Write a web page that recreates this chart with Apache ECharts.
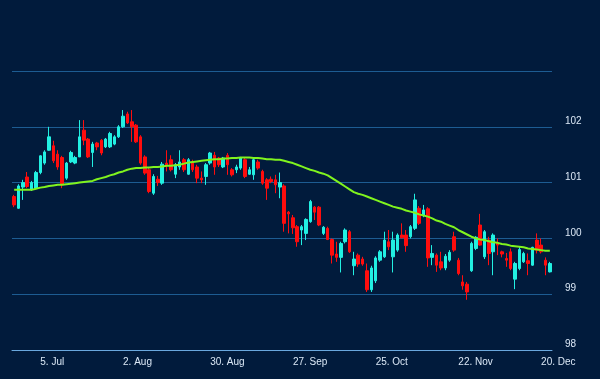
<!DOCTYPE html>
<html>
<head>
<meta charset="utf-8">
<script src="https://cdn.jsdelivr.net/npm/echarts@6/dist/echarts.min.js"></script>
<style>
html,body{margin:0;padding:0;background:#011b3c;}
#chart{width:600px;height:379px;}
</style>
</head>
<body>
<div id="chart"></div>
<script>
// Trading days (bond market, US holidays excluded)
var dates = [
'2021-06-25','2021-06-28','2021-06-29','2021-06-30','2021-07-01','2021-07-02','2021-07-06','2021-07-07','2021-07-08','2021-07-09',
'2021-07-12','2021-07-13','2021-07-14','2021-07-15','2021-07-16','2021-07-19','2021-07-20','2021-07-21','2021-07-22','2021-07-23',
'2021-07-26','2021-07-27','2021-07-28','2021-07-29','2021-07-30','2021-08-02','2021-08-03','2021-08-04','2021-08-05','2021-08-06',
'2021-08-09','2021-08-10','2021-08-11','2021-08-12','2021-08-13','2021-08-16','2021-08-17','2021-08-18','2021-08-19','2021-08-20',
'2021-08-23','2021-08-24','2021-08-25','2021-08-26','2021-08-27','2021-08-30','2021-08-31','2021-09-01','2021-09-02','2021-09-03',
'2021-09-07','2021-09-08','2021-09-09','2021-09-10','2021-09-13','2021-09-14','2021-09-15','2021-09-16','2021-09-17','2021-09-20',
'2021-09-21','2021-09-22','2021-09-23','2021-09-24','2021-09-27','2021-09-28','2021-09-29','2021-09-30','2021-10-01','2021-10-04',
'2021-10-05','2021-10-06','2021-10-07','2021-10-08','2021-10-12','2021-10-13','2021-10-14','2021-10-15','2021-10-18','2021-10-19',
'2021-10-20','2021-10-21','2021-10-22','2021-10-25','2021-10-26','2021-10-27','2021-10-28','2021-10-29','2021-11-01','2021-11-02',
'2021-11-03','2021-11-04','2021-11-05','2021-11-08','2021-11-09','2021-11-10','2021-11-12','2021-11-15','2021-11-16','2021-11-17',
'2021-11-18','2021-11-19','2021-11-22','2021-11-23','2021-11-24','2021-11-26','2021-11-29','2021-11-30','2021-12-01','2021-12-02',
'2021-12-03','2021-12-06','2021-12-07','2021-12-08','2021-12-09','2021-12-10','2021-12-13','2021-12-14','2021-12-15','2021-12-16',
'2021-12-17','2021-12-20','2021-12-21','2021-12-22'
];

var openV = [
100.75,100.54,100.92,101.10,100.87,100.90,101.18,101.35,101.58,101.66,
101.51,101.45,101.08,101.37,101.35,101.46,101.94,101.78,101.54,101.71,
101.76,101.64,101.64,101.69,101.82,102.00,102.23,102.09,102.03,101.82,
101.46,101.23,100.81,101.06,100.99,101.35,101.41,101.15,101.28,101.41,
101.15,101.37,101.28,101.08,101.11,101.35,101.49,101.44,101.28,101.49,
101.23,101.23,101.26,101.41,101.15,101.14,101.37,101.20,101.05,101.06,
101.05,100.92,100.94,100.47,100.37,100.21,100.15,100.09,100.30,100.56,
100.56,100.09,100.18,99.98,99.72,99.66,99.94,100.12,99.51,99.70,
99.63,99.42,99.08,99.24,99.61,99.67,99.94,99.67,99.79,100.06,
100.06,100.03,100.18,100.54,100.41,100.53,99.66,99.70,99.58,99.47,
99.61,100.03,99.61,99.22,99.18,99.42,99.82,100.24,99.67,99.97,
99.76,99.92,99.76,99.64,99.76,99.27,99.46,99.58,99.60,99.52,
99.97,99.88,99.61,99.40
];

var closeV = [
100.60,100.94,101.00,100.93,101.00,101.18,101.48,101.55,101.82,101.39,
101.28,100.96,101.35,101.54,101.45,101.82,101.76,101.46,101.69,101.64,
101.53,101.78,101.88,101.82,102.00,102.19,102.07,102.00,101.73,101.35,
101.17,100.84,101.11,101.00,101.33,101.32,101.23,101.32,101.37,101.23,
101.41,101.23,101.08,101.05,101.32,101.53,101.28,101.32,101.44,101.32,
101.14,101.28,101.44,101.11,101.23,101.41,101.26,100.99,100.90,101.02,
100.96,101.00,100.27,100.44,100.19,99.94,100.21,100.34,100.66,100.47,
100.24,100.20,99.98,99.70,99.66,99.91,100.15,99.76,99.63,99.54,
99.54,99.08,99.47,99.65,99.76,99.97,99.85,99.97,100.06,100.01,
99.87,100.21,100.69,100.27,100.51,99.65,99.73,99.52,99.47,99.68,
99.75,99.79,99.37,99.15,99.04,99.91,100.02,99.88,100.12,99.73,
100.06,99.88,99.72,99.61,99.46,99.55,99.80,99.73,99.55,99.84,
99.79,99.76,99.52,99.55
];

var lowV = [
100.56,100.53,100.69,100.90,100.85,100.89,101.15,101.32,101.57,101.35,
101.23,100.90,101.05,101.35,101.33,101.46,101.67,101.44,101.28,101.58,
101.49,101.62,101.62,101.67,101.80,101.98,102.05,101.73,101.71,101.32,
101.14,100.81,100.78,100.94,100.96,101.20,101.20,101.08,101.23,101.19,
101.14,101.19,100.99,100.99,100.96,101.32,101.14,101.28,101.26,101.14,
101.11,101.17,101.23,101.08,101.14,101.05,101.23,100.96,100.69,100.99,
100.81,100.72,100.12,100.09,100.08,99.85,99.88,99.97,100.28,100.33,
100.22,100.06,99.97,99.55,99.58,99.39,99.91,99.74,99.34,99.49,
99.51,99.04,99.04,99.20,99.58,99.65,99.79,99.39,99.76,100.00,
99.76,100.00,100.15,100.24,100.38,99.49,99.52,99.40,99.43,99.43,
99.58,99.76,99.34,99.08,98.90,99.40,99.79,99.87,99.63,99.52,
99.34,99.70,99.66,99.49,99.43,99.09,99.43,99.56,99.34,99.51,
99.73,99.73,99.34,99.39
];

var highV = [
100.78,100.97,101.05,101.19,101.03,101.21,101.49,101.58,102.00,101.75,
101.58,101.48,101.37,101.57,101.48,102.12,102.12,101.80,101.73,101.73,
101.78,101.80,101.91,101.85,102.03,102.30,102.27,102.30,102.05,101.85,
101.49,101.26,101.15,101.12,101.37,101.58,101.49,101.35,101.58,101.44,
101.44,101.41,101.32,101.20,101.35,101.55,101.55,101.46,101.46,101.53,
101.26,101.32,101.46,101.44,101.28,101.44,101.41,101.23,101.08,101.11,
101.14,101.18,100.97,100.49,100.42,100.24,100.24,100.36,100.69,100.58,
100.58,100.22,100.21,100.00,99.94,99.94,100.18,100.15,99.76,99.73,
99.67,99.55,99.51,99.68,99.79,100.12,100.15,100.12,100.09,100.27,
100.15,100.24,100.80,100.58,100.60,100.56,99.88,99.73,99.76,99.72,
99.79,100.12,99.65,99.34,99.22,99.94,100.04,100.44,100.15,100.03,
100.09,100.00,99.78,99.74,99.82,99.58,99.85,99.76,99.73,99.85,
100.09,100.00,99.66,99.58
];

var maV = [
100.87,100.87,100.87,100.87,100.87,100.89,100.91,100.92,100.94,100.95,
100.96,100.96,100.97,100.98,100.99,101.00,101.01,101.02,101.03,101.06,
101.08,101.10,101.13,101.15,101.18,101.20,101.23,101.25,101.26,101.26,
101.27,101.27,101.28,101.28,101.29,101.30,101.30,101.31,101.32,101.34,
101.36,101.37,101.38,101.39,101.40,101.41,101.42,101.42,101.43,101.43,
101.44,101.44,101.45,101.45,101.45,101.44,101.44,101.43,101.42,101.42,
101.41,101.41,101.39,101.37,101.35,101.32,101.29,101.26,101.23,101.21,
101.18,101.16,101.13,101.08,101.03,100.98,100.93,100.88,100.83,100.80,
100.78,100.75,100.72,100.69,100.66,100.63,100.60,100.57,100.55,100.53,
100.50,100.48,100.46,100.43,100.41,100.39,100.36,100.32,100.30,100.26,
100.23,100.20,100.15,100.11,100.07,100.03,100.00,99.98,99.97,99.95,
99.93,99.92,99.90,99.89,99.87,99.86,99.85,99.84,99.82,99.81,
99.80,99.79,99.78,99.78
];

var tickDates = ['2021-07-05','2021-08-02','2021-08-30','2021-09-27','2021-10-25','2021-11-22','2021-12-20'];
var tickLabels = ['5. Jul','2. Aug','30. Aug','27. Sep','25. Oct','22. Nov','20. Dec'];
var yMin = 98, yMax = 103, yStep = 1;

// map tick dates to the first trading day on/after them
var tickIndex = {};
tickDates.forEach(function (d, k) {
  for (var i = 0; i < dates.length; i++) {
    if (dates[i] >= d) { tickIndex[i] = tickLabels[k]; break; }
  }
});

var ohlc = dates.map(function (d, i) { return [openV[i], closeV[i], lowV[i], highV[i]]; });

var FONT = '"Liberation Sans", Arial, sans-serif';
var chart = echarts.init(document.getElementById('chart'), null, {renderer: 'canvas'});
chart.setOption({
  backgroundColor: '#011b3c',
  animation: false,
  grid: {left: 12, right: 48, top: 71, bottom: 29},
  xAxis: {
    type: 'category',
    data: dates,
    boundaryGap: true,
    axisLine: {lineStyle: {color: '#6aa8de', width: 1}},
    axisTick: {
      alignWithLabel: true,
      length: 7,
      interval: function (idx) { return tickIndex.hasOwnProperty(idx); },
      lineStyle: {color: '#6aa8de'}
    },
    axisLabel: {
      interval: function (idx) { return tickIndex.hasOwnProperty(idx); },
      formatter: function (v, idx) { return tickIndex[idx] || ''; },
      align: 'left',
      margin: 7,
      color: '#dbe8f6',
      fontSize: 10,
      fontFamily: FONT
    },
    splitLine: {show: false}
  },
  yAxis: {
    type: 'value',
    position: 'right',
    min: yMin, max: yMax, interval: yStep,
    axisLine: {show: false},
    axisTick: {show: false},
    splitLine: {lineStyle: {color: '#1d5c92', width: 1}},
    axisLabel: {
      formatter: function (v) { return v === yMax ? '' : String(v); },
      align: 'left',
      verticalAlign: 'bottom',
      lineHeight: 11,
      margin: 13,
      color: '#dbe8f6',
      fontSize: 10,
      fontFamily: FONT
    }
  },
  series: [
    {
      type: 'candlestick',
      data: ohlc,
      barWidth: 3,
      itemStyle: {
        color: '#22f0e2', color0: '#ff0d0d',
        borderColor: '#22f0e2', borderColor0: '#ff0d0d',
        borderWidth: 1
      }
    },
    {
      type: 'line',
      data: maV,
      symbol: 'none',
      smooth: false,
      z: 5,
      lineStyle: {color: '#80f41e', width: 2}
    }
  ]
});
</script>
</body>
</html>
